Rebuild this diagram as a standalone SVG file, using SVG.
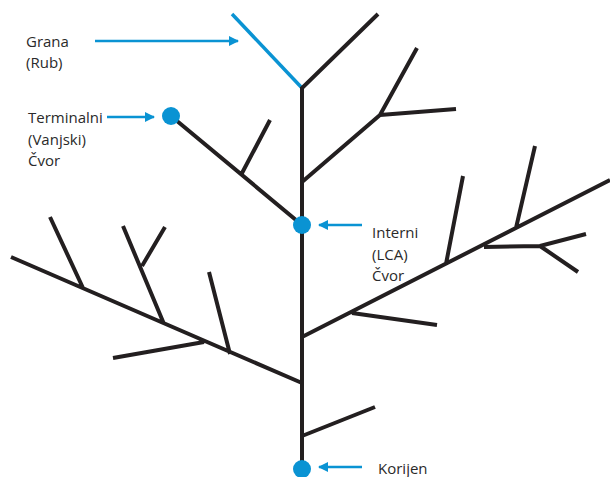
<svg xmlns="http://www.w3.org/2000/svg" width="610" height="477" viewBox="0 0 610 477">
<defs>
<style>
.br{stroke:#231f20;stroke-width:4;stroke-linecap:butt;fill:none;stroke-linejoin:miter}
.edge{stroke:#0a93d3;stroke-width:3.5;fill:none}
.ptr{stroke:#0a93d3;stroke-width:2.5;fill:none}
.node{fill:#0a93d3}
.lbl{font-family:"Open Sans","Noto Sans","Liberation Sans",sans-serif;font-size:15px;fill:#2a2a2a}
</style>
<marker id="ah" viewBox="0 0 10 10" refX="9" refY="5" markerWidth="4" markerHeight="4" markerUnits="strokeWidth" orient="auto">
<path d="M0,0 L10,5 L0,10 Z" fill="#0a93d3"/>
</marker>
</defs>
<g id="connectors">
<line class="edge" x1="232" y1="14" x2="302" y2="88"/>
<path class="br" d="M302,469 V88 L378,14"/>
<path class="br" d="M302,182 L380,115 L417,48 M380,115 L456,109"/>
<path class="br" d="M171,116 L302,225 M241,175 L270,120"/>
<path class="br" d="M302,383 L11,257 M83,288 L50,217 M164,324 L123,226 M142,266 L165,227 M204,342 L113,358 M230,354 L209,272"/>
<path class="br" d="M302,337 L610,180 M352,313 L437,325 M446,264 L463,176 M516,228 L535,146 M484,247 L540,246 L586,234 M540,246 L578,272"/>
<path class="br" d="M302,436 L375,407"/>
<line class="ptr" x1="95" y1="41" x2="238" y2="41" marker-end="url(#ah)"/>
<line class="ptr" x1="107" y1="117" x2="154" y2="117" marker-end="url(#ah)"/>
<line class="ptr" x1="362" y1="225" x2="319" y2="225" marker-end="url(#ah)"/>
<line class="ptr" x1="362" y1="467" x2="319" y2="467" marker-end="url(#ah)"/>
</g>
<g id="terminal"><circle class="node" cx="171" cy="116" r="9"/></g>
<g id="internal"><circle class="node" cx="302" cy="225" r="9"/></g>
<g id="root"><circle class="node" cx="302" cy="469" r="9"/></g>
<g id="label-grana"><text class="lbl" x="26" y="47">Grana</text><text class="lbl" x="26" y="68">(Rub)</text></g>
<g id="label-terminal"><text class="lbl" x="28" y="123">Terminalni</text><text class="lbl" x="28" y="145">(Vanjski)</text><text class="lbl" x="28" y="166">Čvor</text></g>
<g id="label-internal"><text class="lbl" x="372" y="238">Interni</text><text class="lbl" x="372" y="260">(LCA)</text><text class="lbl" x="372" y="281">Čvor</text></g>
<g id="label-root"><text class="lbl" x="378" y="474">Korijen</text></g>
</svg>
